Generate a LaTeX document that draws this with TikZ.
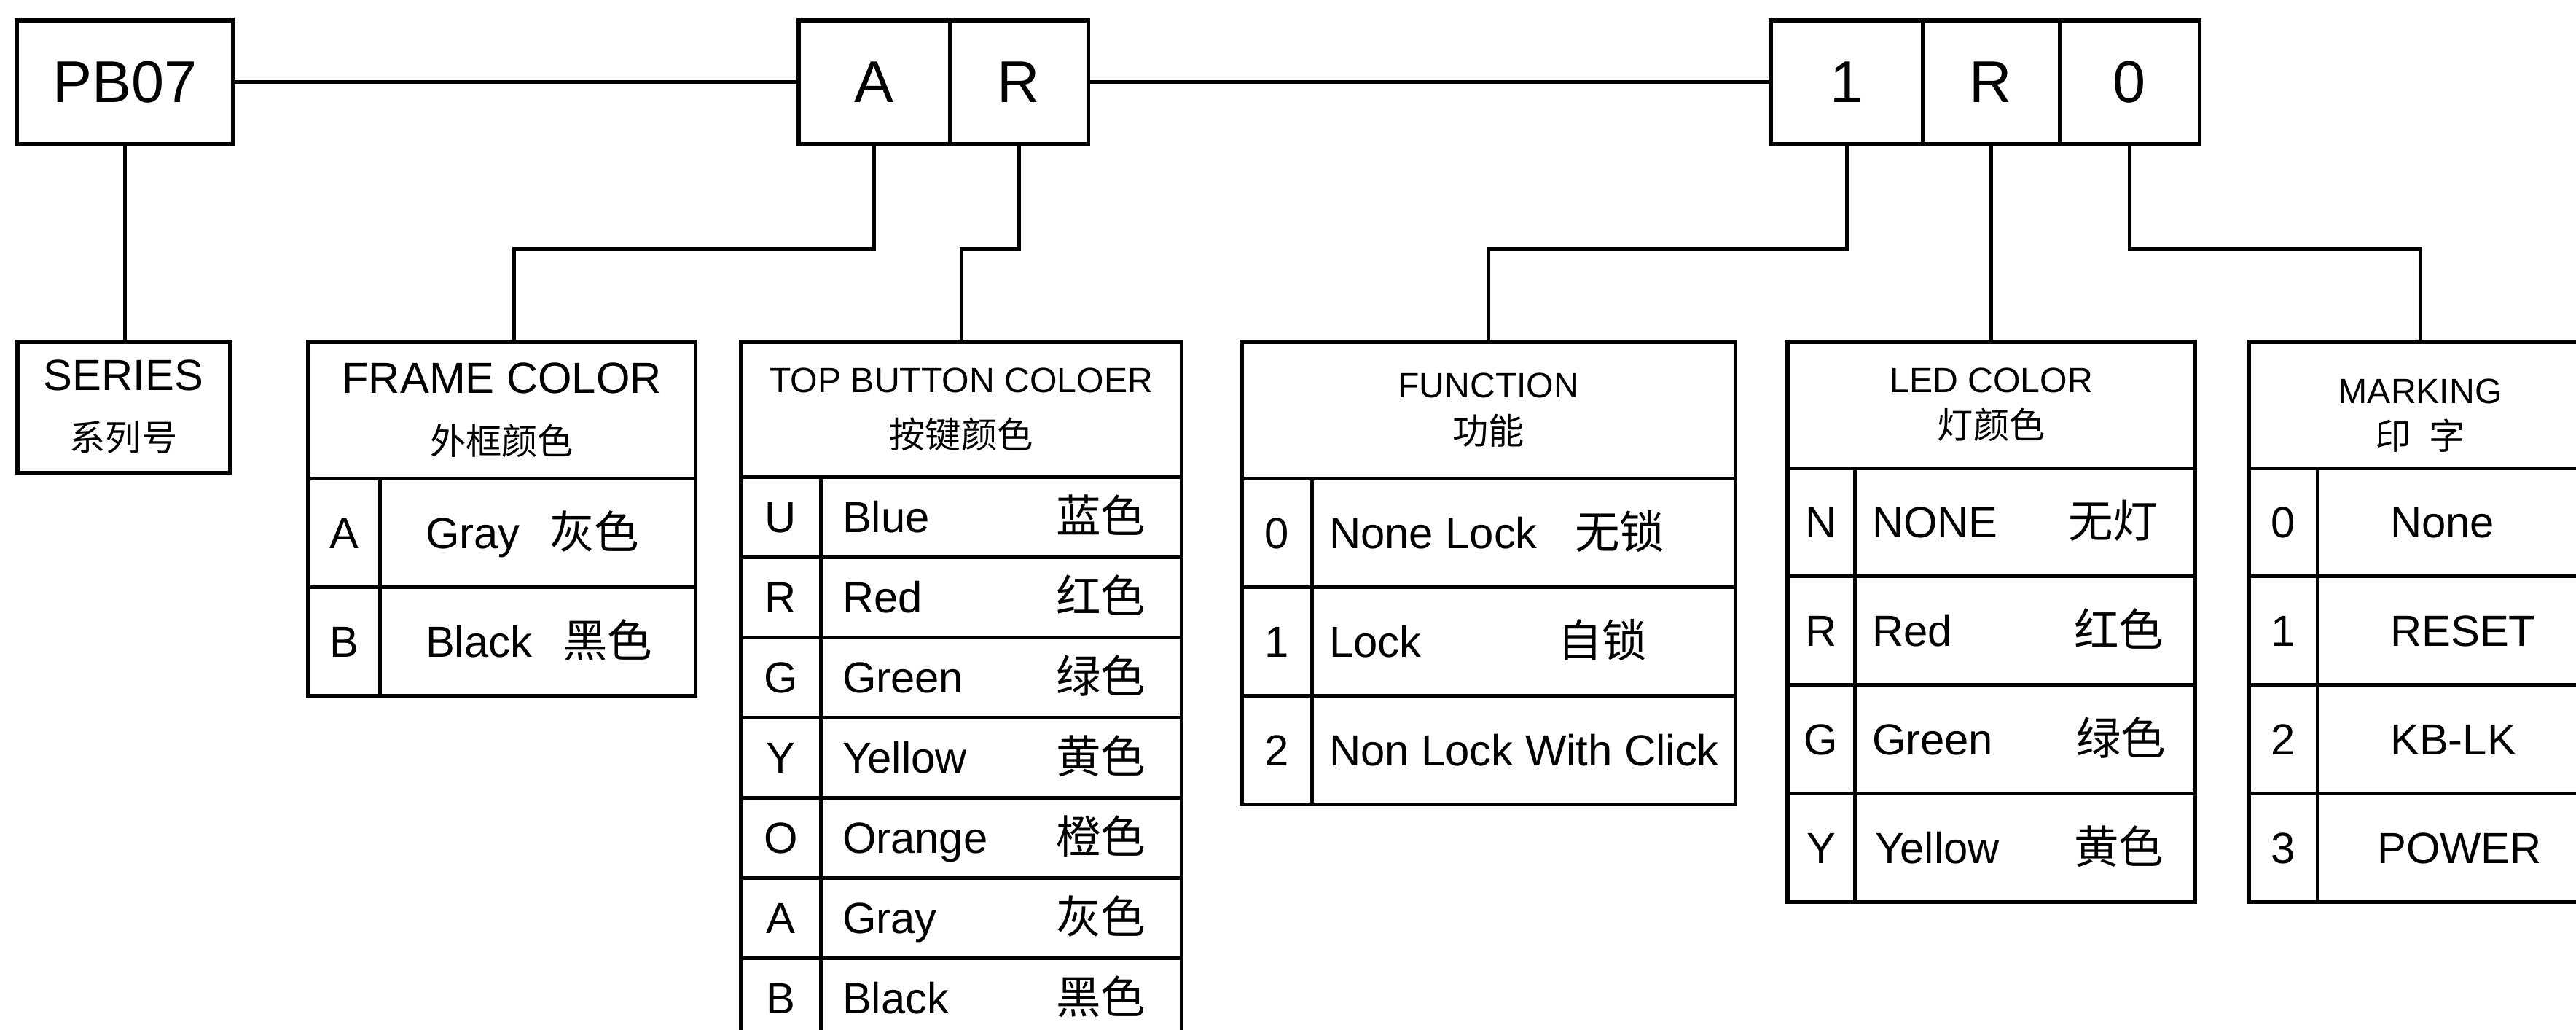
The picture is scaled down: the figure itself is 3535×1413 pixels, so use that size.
\documentclass[tikz,border=0pt]{standalone}
\usepackage{fontspec}
\setmainfont{Liberation Sans}
\newfontfamily\cjk{Noto Sans CJK SC}
\newcommand\cjkhead{\cjk\fontsize{14}{18}\selectfont}
\usetikzlibrary{positioning}
\tikzset{
  pn code/.style={draw,line width=1.45pt,outer sep=0pt,inner sep=0pt,anchor=north west,
    minimum height=1.69cm,font=\fontsize{23}{27}\selectfont},
  pn head/.style={draw,line width=1.45pt,outer sep=0pt,inner sep=0pt,anchor=north west,
    align=center,font=\fontsize{13.7}{18}\selectfont},
  pn head big/.style={pn head,font=\fontsize{17}{23.7}\selectfont},
  pn key/.style={draw,line width=1.45pt,outer sep=0pt,inner sep=0pt,anchor=north west,
    text height=14pt,text depth=1.8pt,font=\fontsize{17}{20}\selectfont},
  pn cell/.style={draw,line width=1.45pt,outer sep=0pt,inner sep=0pt,anchor=north west},
  pn text/.style={inner sep=0pt,outer sep=0pt,text height=14pt,text depth=1.8pt,
    font=\fontsize{17}{20}\selectfont},
  pn cjk/.style={pn text,font=\cjk\fontsize{17.5}{20}\selectfont},
  pn link/.style={draw,line width=1.45pt},
  fr key/.style={pn key,minimum width=0.98cm,minimum height=1.49cm},
  fr cell/.style={pn cell,minimum width=4.33cm,minimum height=1.49cm},
  tb key/.style={pn key,minimum width=1.09cm,minimum height=1.10cm},
  tb cell/.style={pn cell,minimum width=4.95cm,minimum height=1.10cm},
  fn key/.style={pn key,minimum width=0.96cm,minimum height=1.49cm},
  fn cell/.style={pn cell,minimum width=5.81cm,minimum height=1.49cm},
  led key/.style={pn key,minimum width=0.92cm,minimum height=1.487cm},
  led cell/.style={pn cell,minimum width=4.67cm,minimum height=1.487cm},
  mk key/.style={pn key,minimum width=0.94cm,minimum height=1.487cm},
  mk cell/.style={pn cell,minimum width=3.76cm,minimum height=1.487cm}
}

\begin{document}
\begin{tikzpicture}[x=0.01cm,y=-0.01cm]
  \useasboundingbox (0,0) rectangle (3535,1413);

  % part number
  \node[pn code,minimum width=2.96cm] (pb) at (23,28) {PB07};
  \node[pn code,minimum width=2.07cm] (cA) at (1096,28) {A};
  \node[pn code,minimum width=1.90cm] (cR) at (cA.north east) {R};
  \node[pn code,minimum width=2.08cm] (c1) at (2430,28) {1};
  \node[pn code,minimum width=1.88cm] (cLed) at (c1.north east) {R};
  \node[pn code,minimum width=1.92cm] (c0) at (cLed.north east) {0};

  % table heads
  \node[pn head big,minimum width=2.91cm,minimum height=1.79cm] (series) at (24,469) {SERIES\\{\cjkhead 系列号}};
  \node[pn head big,minimum width=5.31cm,minimum height=1.87cm] (frhead) at (423,469) {FRAME COLOR\\{\cjkhead 外框颜色}};
  \node[pn head,font=\fontsize{13.7}{21.6}\selectfont,minimum width=6.04cm,minimum height=1.85cm] (tbhead) at (1017,469) {TOP BUTTON COLOER\\{\cjkhead 按键颜色}};
  \node[pn head,minimum width=6.77cm,minimum height=1.87cm] (fnhead) at (1704,469) {FUNCTION\\{\cjkhead 功能}};
  \node[pn head,minimum width=5.59cm,minimum height=1.73cm] (ledhead) at (2453,469) {LED COLOR\\{\cjkhead 灯颜色}};
  \node[pn head,minimum width=4.70cm,minimum height=1.73cm] (mkhead) at (3086,469) {\rule{0pt}{17.7pt}MARKING\\{\cjkhead 印\hspace{0.5em}字}};

  % frame color
  \node[fr key] (fr-a) at (frhead.south west) {A};
  \node[fr cell] (fr-a-val) at (fr-a.north east) {};
  \node[pn text,right=0.63cm of fr-a-val.west] {Gray};
  \node[pn cjk,right=2.33cm of fr-a-val.west] {灰色};
  \node[fr key] (fr-b) at (fr-a.south west) {B};
  \node[fr cell] (fr-b-val) at (fr-b.north east) {};
  \node[pn text,right=0.63cm of fr-b-val.west] {Black};
  \node[pn cjk,right=2.51cm of fr-b-val.west] {黑色};

  % top button color
  \node[tb key] (tb-u) at (tbhead.south west) {U};
  \node[tb cell] (tb-u-val) at (tb-u.north east) {};
  \node[pn text,right=0.30cm of tb-u-val.west] {Blue};
  \node[pn cjk,left=0.49cm of tb-u-val.east] {蓝色};
  \node[tb key] (tb-r) at (tb-u.south west) {R};
  \node[tb cell] (tb-r-val) at (tb-r.north east) {};
  \node[pn text,right=0.30cm of tb-r-val.west] {Red};
  \node[pn cjk,left=0.49cm of tb-r-val.east] {红色};
  \node[tb key] (tb-g) at (tb-r.south west) {G};
  \node[tb cell] (tb-g-val) at (tb-g.north east) {};
  \node[pn text,right=0.30cm of tb-g-val.west] {Green};
  \node[pn cjk,left=0.49cm of tb-g-val.east] {绿色};
  \node[tb key] (tb-y) at (tb-g.south west) {Y};
  \node[tb cell] (tb-y-val) at (tb-y.north east) {};
  \node[pn text,right=0.30cm of tb-y-val.west] {Yellow};
  \node[pn cjk,left=0.49cm of tb-y-val.east] {黄色};
  \node[tb key] (tb-o) at (tb-y.south west) {O};
  \node[tb cell] (tb-o-val) at (tb-o.north east) {};
  \node[pn text,right=0.30cm of tb-o-val.west] {Orange};
  \node[pn cjk,left=0.49cm of tb-o-val.east] {橙色};
  \node[tb key] (tb-a) at (tb-o.south west) {A};
  \node[tb cell] (tb-a-val) at (tb-a.north east) {};
  \node[pn text,right=0.30cm of tb-a-val.west] {Gray};
  \node[pn cjk,left=0.49cm of tb-a-val.east] {灰色};
  \node[tb key] (tb-b) at (tb-a.south west) {B};
  \node[tb cell] (tb-b-val) at (tb-b.north east) {};
  \node[pn text,right=0.30cm of tb-b-val.west] {Black};
  \node[pn cjk,left=0.49cm of tb-b-val.east] {黑色};

  % function
  \node[fn key] (fn-0) at (fnhead.south west) {0};
  \node[fn cell] (fn-0-val) at (fn-0.north east) {};
  \node[pn text,right=0.24cm of fn-0-val.west] {None Lock};
  \node[pn cjk,right=3.61cm of fn-0-val.west] {无锁};
  \node[fn key] (fn-1) at (fn-0.south west) {1};
  \node[fn cell] (fn-1-val) at (fn-1.north east) {};
  \node[pn text,right=0.24cm of fn-1-val.west] {Lock};
  \node[pn cjk,right=3.37cm of fn-1-val.west] {自锁};
  \node[fn key] (fn-2) at (fn-1.south west) {2};
  \node[fn cell] (fn-2-val) at (fn-2.north east) {};
  \node[pn text,right=0.24cm of fn-2-val.west] {Non Lock With Click};

  % led color
  \node[led key] (led-n) at (ledhead.south west) {N};
  \node[led cell] (led-n-val) at (led-n.north east) {};
  \node[pn text,right=0.24cm of led-n-val.west] {NONE};
  \node[pn cjk,right=2.93cm of led-n-val.west] {无灯};
  \node[led key] (led-r) at (led-n.south west) {R};
  \node[led cell] (led-r-val) at (led-r.north east) {};
  \node[pn text,right=0.24cm of led-r-val.west] {Red};
  \node[pn cjk,right=3.01cm of led-r-val.west] {红色};
  \node[led key] (led-g) at (led-r.south west) {G};
  \node[led cell] (led-g-val) at (led-g.north east) {};
  \node[pn text,right=0.24cm of led-g-val.west] {Green};
  \node[pn cjk,right=3.04cm of led-g-val.west] {绿色};
  \node[led key] (led-y) at (led-g.south west) {Y};
  \node[led cell] (led-y-val) at (led-y.north east) {};
  \node[pn text,right=0.28cm of led-y-val.west] {Yellow};
  \node[pn cjk,right=3.01cm of led-y-val.west] {黄色};

  % marking
  \node[mk key] (mk-0) at (mkhead.south west) {0};
  \node[mk cell] (mk-0-val) at (mk-0.north east) {};
  \node[pn text,right=1.00cm of mk-0-val.west] {None};
  \node[mk key] (mk-1) at (mk-0.south west) {1};
  \node[mk cell] (mk-1-val) at (mk-1.north east) {};
  \node[pn text,right=1.00cm of mk-1-val.west] {RESET};
  \node[mk key] (mk-2) at (mk-1.south west) {2};
  \node[mk cell] (mk-2-val) at (mk-2.north east) {};
  \node[pn text,right=1.00cm of mk-2-val.west] {KB-LK};
  \node[mk key] (mk-3) at (mk-2.south west) {3};
  \node[mk cell] (mk-3-val) at (mk-3.north east) {};
  \node[pn text,right=0.82cm of mk-3-val.west] {POWER};

  % links
  \draw[pn link] (pb.east) -- (cA.west);
  \draw[pn link] (cR.east) -- (c1.west);
  \draw[pn link] (pb.south) -- (pb.south |- series.north);
  \draw[pn link] (cA.south) -- ++(0,144) -| ([xshift=0.165cm]frhead.north);
  \draw[pn link] (cR.south) -- ++(0,144) -| (tbhead.north);
  \draw[pn link] (c1.south) -- ++(0,144) -| (fnhead.north);
  \draw[pn link] (cLed.south) -- (cLed.south |- ledhead.north);
  \draw[pn link] (c0.south) -- ++(0,144) -| (mkhead.north);
\end{tikzpicture}
\end{document}
